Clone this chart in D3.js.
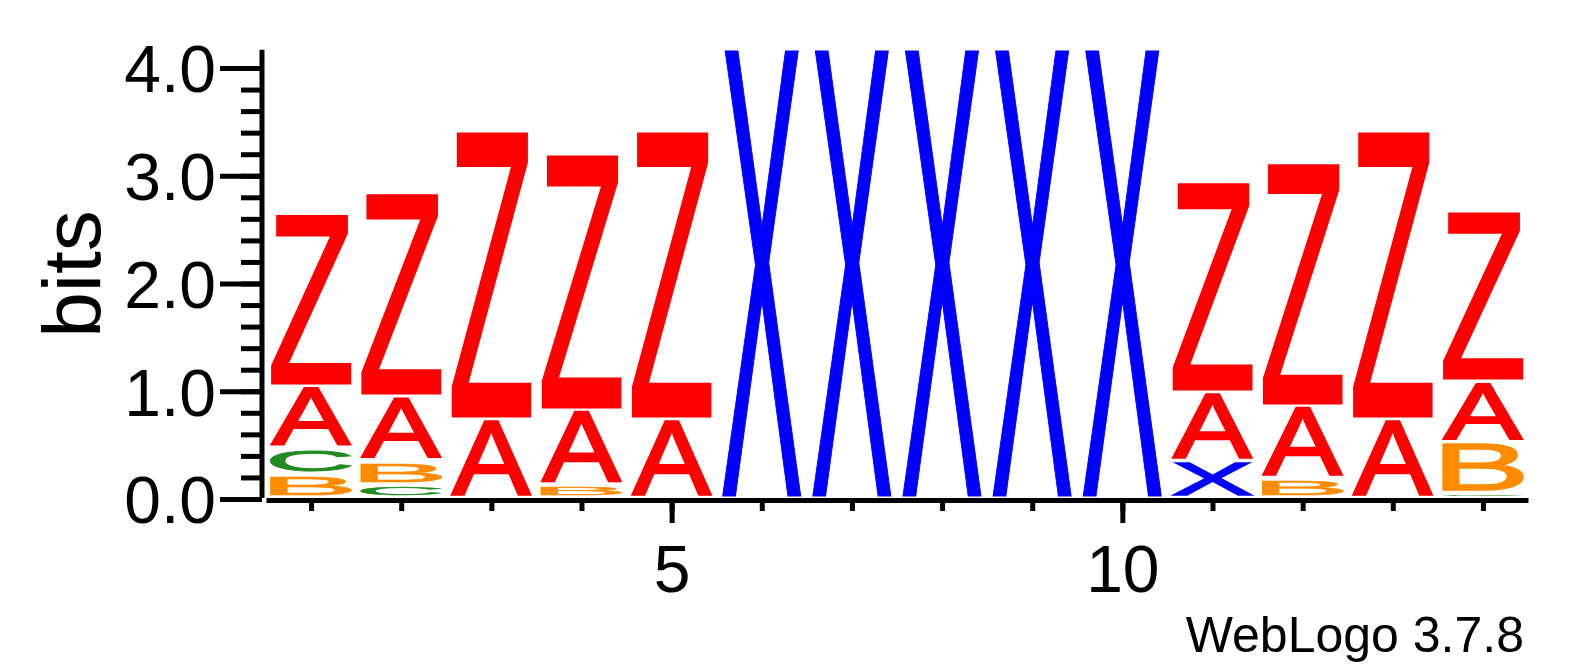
<!DOCTYPE html>
<html>
<head>
<meta charset="utf-8">
<script src="https://cdn.jsdelivr.net/npm/d3@7"></script>
<style>
  body { margin: 0; background: #fff; }
  text { font-family: "Liberation Sans", Arial, sans-serif; }
</style>
</head>
<body>
<div id="logo"></div>
<script>
var positions = d3.range(1, 15);
var letters = ["A", "B", "C", "X", "Z"];
var bitsA = [0.575, 0.603, 0.733, 0.696, 0.733, 0, 0, 0, 0, 0, 0.640, 0.668, 0.733, 0.566];
var bitsB = [0.213, 0.223, 0, 0.12, 0, 0, 0, 0, 0, 0, 0, 0.186, 0, 0.473];
var bitsC = [0.251, 0.12, 0, 0, 0, 0, 0, 0, 0, 0, 0, 0, 0, 0.04];
var bitsX = [0, 0, 0, 0, 0, 4.17, 4.17, 4.17, 4.17, 4.17, 0.343, 0, 0, 0];
var bitsZ = [1.596, 1.884, 2.673, 2.376, 2.673, 0, 0, 0, 0, 0, 1.949, 2.255, 2.673, 1.568];
var yMajor = [0, 1, 2, 3, 4];
var xLabels = [5, 10];
var yMax = 4.17;

var colors = { A: "#ff0000", Z: "#ff0000", X: "#0000ff", B: "#ff8c00", C: "#228b22" };
var series = { A: bitsA, B: bitsB, C: bitsC, X: bitsX, Z: bitsZ };

var width = 1575, height = 667;
var svg = d3.select("#logo").append("svg")
  .attr("width", width)
  .attr("height", height);

var x = d3.scaleLinear().domain([0.5, 14.5]).range([266, 1528]);
var y = d3.scaleLinear().domain([0, yMax]).range([499, 499 - yMax * 107.75]);
var band = x(2) - x(1);
var inkW = band * 0.9;

// measure glyph ink boxes so letters can be stretched to fill their slot
var ctx = document.createElement("canvas").getContext("2d");
var fsize = 200;
ctx.font = fsize + "px 'Liberation Sans'";
var ink = {};
letters.forEach(function(l) {
  var m = ctx.measureText(l);
  ink[l] = {
    left: m.actualBoundingBoxLeft,
    right: m.actualBoundingBoxRight,
    asc: m.actualBoundingBoxAscent,
    desc: m.actualBoundingBoxDescent
  };
});

// build stacks (smallest at the bottom)
var glyphs = [];
positions.forEach(function(p, i) {
  var stack = letters
    .map(function(l) { return { letter: l, bits: series[l][i] }; })
    .filter(function(d) { return d.bits > 0; })
    .sort(function(a, b) { return a.bits - b.bits; });
  var base = 0;
  stack.forEach(function(d) {
    glyphs.push({ pos: p, letter: d.letter, y0: base, y1: base + d.bits });
    base += d.bits;
  });
});

var pad = 3;     // white gap under each glyph
var sw = 2.6;    // outline to make the glyphs a bit heavier (screen px)
svg.append("g")
  .selectAll("text")
  .data(glyphs)
  .enter()
  .append("text")
  .attr("font-size", fsize)
  .attr("fill", function(d) { return colors[d.letter]; })
  .attr("stroke", function(d) { return colors[d.letter]; })
  .attr("stroke-width", function(d) { return (y(d.y0) - y(d.y1)) > 12 ? sw : 0; })
  .attr("stroke-linejoin", "miter")
  .attr("vector-effect", "non-scaling-stroke")
  .attr("transform", function(d) {
    var b = ink[d.letter];
    var s = (y(d.y0) - y(d.y1)) > 12 ? sw / 2 : 0;
    var top = y(d.y1) + s;
    var h = Math.max(y(d.y0) - y(d.y1) - pad - 2 * s, 0.6);
    var w = inkW - 2 * s;
    var sx = w / (b.left + b.right);
    var sy = h / (b.asc + b.desc);
    return "translate(" + (x(d.pos) - inkW / 2 + s) + "," + top + ") scale(" + sx + "," + sy + ") translate(" + b.left + "," + b.asc + ")";
  })
  .text(function(d) { return d.letter; });

// y axis: minor then major ticks
var yMinor = d3.range(0, 4.01, 0.2);
var gyMinor = svg.append("g")
  .attr("transform", "translate(262,0)")
  .call(d3.axisLeft(y).tickValues(yMinor).tickSize(21).tickSizeOuter(0).tickFormat(""));
var gy = svg.append("g")
  .attr("transform", "translate(262,0)")
  .call(d3.axisLeft(y).tickValues(yMajor).tickSize(42).tickSizeOuter(0).tickPadding(4)
    .tickFormat(d3.format(".1f")));
gy.selectAll("text")
  .attr("font-size", 66)
  .attr("dy", "0.36em")
  .attr("fill", "#000")
  .style("font-family", "'Liberation Sans', Arial, sans-serif");

[gyMinor, gy].forEach(function(g) {
  g.selectAll("line").attr("stroke", "#000").attr("stroke-width", 5);
  g.select(".domain").attr("stroke", "#000").attr("stroke-width", 5);
});
gyMinor.select(".domain").remove();
gy.select(".domain").attr("d", "M0," + y(yMax) + "V498");

// x axis
var gxMinor = svg.append("g")
  .attr("transform", "translate(0,500)")
  .call(d3.axisBottom(x).tickValues(positions).tickSize(11).tickSizeOuter(0).tickFormat(""));
var gx = svg.append("g")
  .attr("transform", "translate(0,500)")
  .call(d3.axisBottom(x).tickValues(xLabels).tickSize(23).tickSizeOuter(0));
gx.selectAll("text")
  .attr("font-size", 66)
  .attr("y", 92)
  .attr("dy", 0)
  .attr("fill", "#000")
  .style("font-family", "'Liberation Sans', Arial, sans-serif");
[gxMinor, gx].forEach(function(g) {
  g.selectAll("line").attr("stroke", "#000").attr("stroke-width", 5);
  g.select(".domain").attr("stroke", "#000").attr("stroke-width", 5);
});
gxMinor.select(".domain").remove();

// axis title
svg.append("text")
  .attr("transform", "translate(100,274) rotate(-90)")
  .attr("text-anchor", "middle")
  .attr("font-size", 82)
  .text("bits");

// version note
svg.append("text")
  .attr("x", 1524)
  .attr("y", 652)
  .attr("text-anchor", "end")
  .attr("font-size", 50)
  .text("WebLogo 3.7.8");
</script>
</body>
</html>
